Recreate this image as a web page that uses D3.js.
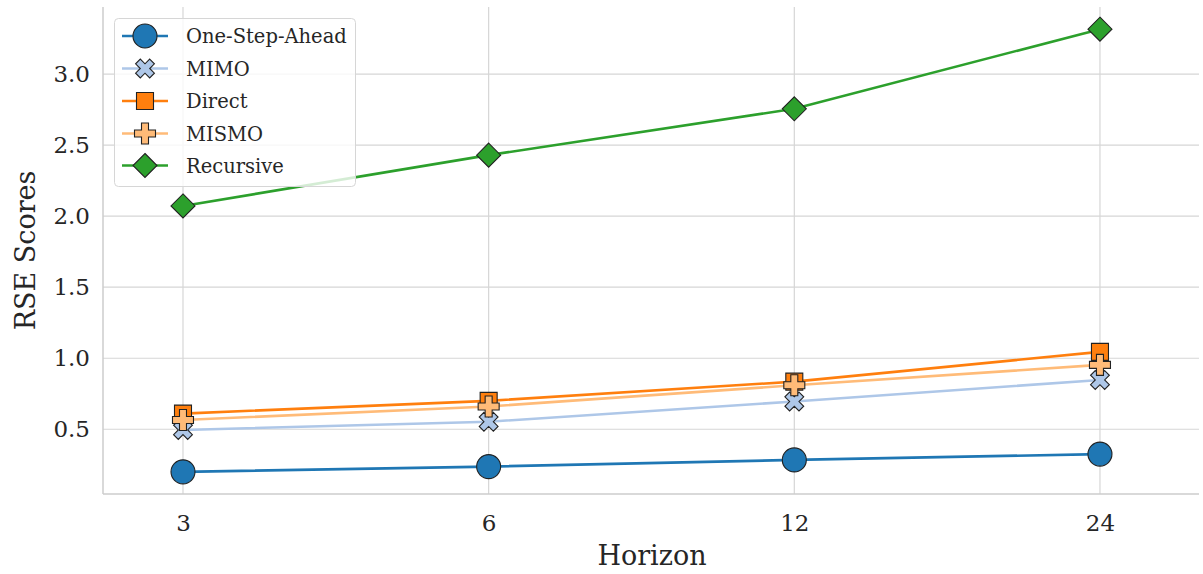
<!DOCTYPE html>
<html>
<head>
<meta charset="utf-8">
<script src="https://cdn.jsdelivr.net/npm/d3@7"></script>
<style>
  html, body { margin: 0; padding: 0; background: #fff; }
  svg { display: block; }
  text { font-family: "DejaVu Serif", Georgia, serif; fill: #262626; }
</style>
</head>
<body>
<svg id="chart" width="1203" height="574"></svg>
<script>
// ---- data ----
const horizons = ["3", "6", "12", "24"];
const seriesNames = ["One-Step-Ahead", "MIMO", "Direct", "MISMO", "Recursive"];
const oneStepAhead = [0.200, 0.237, 0.284, 0.325];
const mimo         = [0.495, 0.553, 0.695, 0.847];
const direct       = [0.610, 0.700, 0.835, 1.045];
const mismo        = [0.565, 0.660, 0.810, 0.953];
const recursive    = [2.072, 2.430, 2.756, 3.317];
const yTicks = [0.5, 1.0, 1.5, 2.0, 2.5, 3.0];

const colors = ["#1f77b4", "#aec7e8", "#ff7f0e", "#ffbb78", "#2ca02c"];
const markers = ["circle", "x", "square", "plus", "diamond"];
const seriesValues = [oneStepAhead, mimo, direct, mismo, recursive];

// ---- layout ----
const svg = d3.select("#chart");
const pL = 103, pR = 1199, pT = 7, pB = 494;

const x = d3.scaleLinear().domain([-0.2617, 3.324]).range([pL, pR]);
const y = d3.scaleLinear().domain([0.044, 3.473]).range([pB, pT]);

// grid
const grid = svg.append("g");
grid.selectAll("line.h").data(yTicks).enter().append("line")
  .attr("x1", pL).attr("x2", pR)
  .attr("y1", d => y(d)).attr("y2", d => y(d))
  .attr("stroke", "#d6d6d6").attr("stroke-width", 1.2);
grid.selectAll("line.v").data(horizons).enter().append("line")
  .attr("x1", (d, i) => x(i)).attr("x2", (d, i) => x(i))
  .attr("y1", pT).attr("y2", pB)
  .attr("stroke", "#d6d6d6").attr("stroke-width", 1.2);

// axes via d3 axis
const yAxis = svg.append("g").attr("transform", `translate(${pL},0)`)
  .call(d3.axisLeft(y).tickValues(yTicks).tickFormat(d3.format(".1f")).tickSize(0).tickPadding(13));
const xAxis = svg.append("g").attr("transform", `translate(0,${pB})`)
  .call(d3.axisBottom(x).tickValues([0, 1, 2, 3]).tickFormat(i => horizons[i]).tickSize(0).tickPadding(21));
[yAxis, xAxis].forEach(a => {
  a.select(".domain").attr("stroke", "#cccccc").attr("stroke-width", 1.5);
  a.selectAll("text").attr("font-size", 23).attr("fill", "#262626")
    .style("font-family", '"DejaVu Serif", serif');
});
yAxis.select(".domain").attr("d", `M0,${pT}V${pB}`);
xAxis.select(".domain").attr("d", `M${pL},0H${pR}`);

// axis labels
svg.append("text").attr("x", 652).attr("y", 565)
  .attr("text-anchor", "middle").attr("font-size", 27).text("Horizon");
svg.append("text").attr("transform", `translate(35,${(pT + pB) / 2}) rotate(-90)`)
  .attr("text-anchor", "middle").attr("font-size", 27).text("RSE Scores");

// marker paths
function markerPath(type) {
  switch (type) {
    case "circle": return d3.symbol(d3.symbolCircle, Math.PI * 12 * 12)();
    case "square": return "M-8.5,-8.5H8.5V8.5H-8.5Z";
    case "diamond": return "M0,-12L12,0L0,12L-12,0Z";
    case "plus": {
      const a = 10.5, b = 3.5;
      return `M${-b},${-a}H${b}V${-b}H${a}V${b}H${b}V${a}H${-b}V${b}H${-a}V${-b}H${-b}Z`;
    }
    case "x": {
      const a = 10.5, b = 3.5;
      const pts = [[-b,-a],[b,-a],[b,-b],[a,-b],[a,b],[b,b],[b,a],[-b,a],[-b,b],[-a,b],[-a,-b],[-b,-b]];
      const c = Math.SQRT1_2;
      return "M" + pts.map(([px, py]) => [(px - py) * c * 0.95, (px + py) * c * 0.95].map(v => v.toFixed(2)).join(",")).join("L") + "Z";
    }
  }
}

// series
const line = d3.line().x((d, i) => x(i)).y(d => y(d));
seriesValues.forEach((vals, s) => {
  const g = svg.append("g");
  g.append("path").datum(vals).attr("d", line)
    .attr("fill", "none").attr("stroke", colors[s]).attr("stroke-width", 2.6);
  g.selectAll("path.m").data(vals).enter().append("path").attr("class", "m")
    .attr("d", markerPath(markers[s]))
    .attr("transform", (d, i) => `translate(${x(i)},${y(d)})`)
    .attr("fill", colors[s]).attr("stroke", "#222").attr("stroke-width", 1.1);
});

// legend
const lg = svg.append("g");
lg.append("rect").attr("x", 114.5).attr("y", 18.5).attr("width", 241).attr("height", 168)
  .attr("rx", 4).attr("fill", "#fff").attr("fill-opacity", 0.8)
  .attr("stroke", "#d6d6d6").attr("stroke-width", 1);
const rowY = [36, 68.5, 101, 133.5, 165.5];
seriesNames.forEach((name, s) => {
  lg.append("line").attr("x1", 122).attr("x2", 168).attr("y1", rowY[s]).attr("y2", rowY[s])
    .attr("stroke", colors[s]).attr("stroke-width", 2.6);
  lg.append("path").attr("d", markerPath(markers[s]))
    .attr("transform", `translate(145,${rowY[s]})`)
    .attr("fill", colors[s]).attr("stroke", "#222").attr("stroke-width", 1.1);
  lg.append("text").attr("x", 186).attr("y", rowY[s]).attr("dy", "0.36em")
    .attr("font-size", 19.5).text(name);
});
</script>
</body>
</html>
